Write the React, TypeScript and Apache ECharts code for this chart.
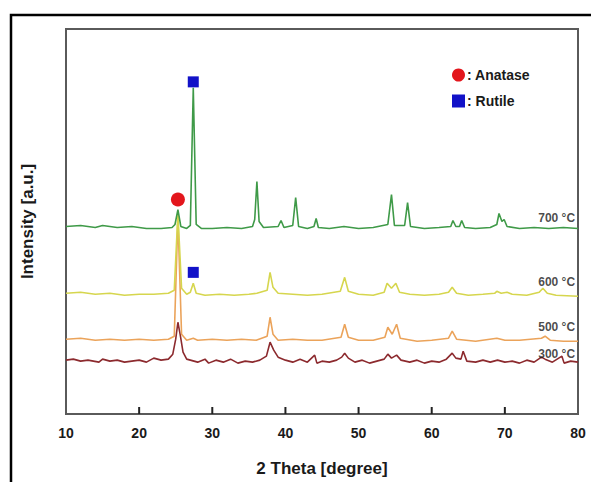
import React, { useEffect, useRef } from "react";
import * as echarts from "echarts";

// 2θ / relative intensity points (intensity in arbitrary units)
const s700: [number, number][] = [
  [10, 188], [12, 189], [14, 187], [15, 189], [17, 187], [19, 188], [21, 186], [23, 186], [24.5, 187],
  [24.9, 190], [25.3, 205], [25.7, 188], [26.5, 186], [27.0, 189], [27.4, 327], [27.8, 190], [28.5, 186],
  [30, 186], [32, 187], [34, 186], [35.5, 188], [35.8, 195], [36.1, 233], [36.4, 193], [37, 187],
  [39.0, 188], [39.4, 194], [39.8, 187], [41.0, 189], [41.4, 217], [41.8, 188], [43, 186], [43.9, 188],
  [44.2, 196], [44.5, 187], [46, 186], [48, 188], [50, 186], [52, 187], [54.0, 190], [54.5, 220],
  [54.9, 189], [56.3, 189], [56.7, 212], [57.1, 188], [59, 186], [61, 187], [62.6, 188], [62.9, 194],
  [63.3, 188], [63.8, 188], [64.1, 194], [64.5, 187], [66, 186], [68, 187], [68.9, 190], [69.2, 201],
  [69.6, 193], [69.9, 195], [70.3, 188], [72, 186], [74, 187], [76, 186], [78, 187], [80, 186],
];
const s600: [number, number][] = [
  [10, 121], [12, 122], [14, 120], [16, 121], [18, 119], [20, 120], [22, 120], [24, 121], [24.8, 124],
  [25.3, 201], [25.8, 126], [26.5, 120], [27.0, 122], [27.4, 131], [27.8, 121], [29, 119], [31, 120],
  [33, 119], [35, 120], [36.1, 121], [37.5, 124], [37.9, 142], [38.3, 127], [39, 121], [41, 120],
  [43, 119], [45, 120], [47.5, 123], [48.1, 137], [48.6, 123], [50, 120], [52, 119], [53.5, 122],
  [53.9, 131], [54.5, 126], [55.1, 131], [55.6, 122], [57, 120], [59, 119], [61, 120], [62.3, 122],
  [62.8, 127], [63.4, 121], [65, 119], [67, 120], [68.6, 121], [68.9, 123], [69.5, 121], [70.3, 122],
  [71, 120], [73, 119], [74.7, 122], [75.2, 126], [75.8, 121], [77, 119], [80, 118],
];
const s500: [number, number][] = [
  [10, 75], [12, 76], [14, 74], [16, 75], [18, 74], [20, 75], [22, 74], [24, 75], [24.8, 78],
  [25.3, 197], [25.8, 80], [26.5, 74], [27.4, 76], [28, 74], [30, 75], [32, 74], [34, 75], [36, 74],
  [37.5, 78], [37.9, 97], [38.3, 80], [39, 74], [41, 75], [43, 74], [45, 74], [47.6, 77], [48.1, 90],
  [48.6, 77], [50, 74], [52, 74], [53.6, 77], [54.0, 87], [54.6, 80], [55.2, 90], [55.7, 76], [58, 73],
  [60, 74], [62.3, 76], [62.8, 83], [63.4, 75], [66, 73], [68.9, 76], [70, 74], [72, 74], [75, 76],
  [75.5, 78], [76.2, 74], [78, 73], [80, 73],
];
const s300: [number, number][] = [
  [10, 54], [11, 55], [12, 53], [13, 54], [14.5, 52], [15, 55], [16, 53], [17, 54], [18, 52], [19, 53],
  [20, 54], [21, 52], [22, 56], [23, 54], [24, 55], [24.6, 60], [25.0, 75], [25.3, 92], [25.6, 80],
  [26.0, 62], [26.5, 55], [27.5, 53], [28, 52], [29, 55], [29.5, 51], [30.5, 54], [31.5, 52],
  [32.5, 55], [33.5, 51], [34.5, 53], [35.5, 52], [36.5, 54], [37.4, 58], [37.9, 72], [38.4, 64],
  [39, 57], [40, 54], [41, 52], [42, 55], [43, 52], [44.0, 59], [44.3, 51], [45, 53], [46, 52],
  [47, 54], [47.7, 57], [48.1, 61], [48.6, 56], [49.5, 52], [50.5, 54], [51.5, 51], [52.5, 53],
  [53.5, 55], [54.0, 60], [54.5, 56], [55.2, 59], [55.8, 54], [57, 52], [58, 54], [59, 51], [60, 53],
  [61, 52], [62.0, 55], [62.8, 61], [63.3, 56], [64.0, 55], [64.3, 63], [64.8, 53], [66, 52], [67, 54],
  [68, 52], [69, 54], [70, 52], [71, 53], [72, 51], [73, 54], [74, 52], [75.0, 57], [75.5, 55],
  [76.5, 52], [77.8, 58], [78.1, 51], [79, 53], [80, 52],
];

// phase markers
const anatasePts: [number, number][] = [[25.3, 215]];
const rutilePts: [number, number][] = [[27.4, 333], [27.4, 142]];

// temperature labels: [2θ, intensity, text]
const tempLabels: [number, number, string][] = [
  [79.6, 197, "700 °C"],
  [79.6, 132, "600 °C"],
  [79.6, 87, "500 °C"],
  [79.6, 60, "300 °C"],
];

const xTicks = [10, 20, 30, 40, 50, 60, 70, 80];

const FONT = "Liberation Sans, Arial, sans-serif";

export default function App() {
  const ref = useRef<HTMLDivElement>(null);
  useEffect(() => {
    if (!ref.current) return;
    const chart = echarts.init(ref.current, undefined, { renderer: "svg" });
    const line = (name: string, data: [number, number][], color: string) => ({
      name,
      type: "line",
      data,
      symbol: "none",
      smooth: false,
      lineStyle: { color, width: 1.6 },
      z: 2,
    });
    const tickMarks = xTicks.slice(1, -1).map((t) => [t, 0]);
    chart.setOption({
      animation: false,
      backgroundColor: "#fff",
      textStyle: { fontFamily: FONT },
      grid: {
        left: 66,
        right: 13,
        top: 29,
        bottom: 67,
        show: true,
        borderColor: "#5a5a5a",
        borderWidth: 2,
      },
      legend: {
        orient: "vertical",
        left: 447,
        top: 63,
        itemGap: 12,
        itemWidth: 13,
        itemHeight: 13,
        formatter: ": {name}",
        textStyle: { fontFamily: FONT, fontWeight: "bold", fontSize: 14, color: "#1a1a1a", padding: [0, 0, 0, -3] },
        data: [
          { name: "Anatase", icon: "circle" },
          { name: "Rutile", icon: "rect" },
        ],
      },
      xAxis: {
        type: "value",
        min: xTicks[0],
        max: xTicks[xTicks.length - 1],
        interval: 10,
        name: "2 Theta [degree]",
        nameLocation: "middle",
        nameGap: 46,
        nameTextStyle: { fontFamily: FONT, fontWeight: "bold", fontSize: 17, color: "#1a1a1a" },
        axisLine: { show: true, lineStyle: { color: "#5a5a5a", width: 2 } },
        axisTick: { show: false },
        axisLabel: { fontFamily: FONT, fontWeight: "bold", fontSize: 14, color: "#1a1a1a", margin: 12 },
        splitLine: { show: false },
      },
      yAxis: {
        type: "value",
        min: 0,
        max: 386,
        name: "Intensity [a.u.]",
        nameLocation: "middle",
        nameGap: 30,
        nameRotate: 90,
        nameTextStyle: { fontFamily: FONT, fontWeight: "bold", fontSize: 17, color: "#1a1a1a" },
        axisLine: { show: true, lineStyle: { color: "#5a5a5a", width: 2 } },
        axisTick: { show: false },
        axisLabel: { show: false },
        splitLine: { show: false },
      },
      graphic: [
        {
          type: "polyline",
          shape: { points: [[11, 482], [11, 15], [591, 15]] },
          style: { stroke: "#000", lineWidth: 2.5, fill: "none" },
          silent: true,
        },
      ],
      series: [
        {
          name: "ticks",
          type: "scatter",
          data: tickMarks,
          symbol: "rect",
          symbolSize: [2, 7],
          symbolOffset: [0, -3.5],
          silent: true,
          clip: false,
          itemStyle: { color: "#222", opacity: 1 },
          z: 8,
        },
        line("300 °C", s300, "#8c2a2e"),
        line("500 °C", s500, "#eba35a"),
        line("600 °C", s600, "#d6d64e"),
        line("700 °C", s700, "#3f9a48"),
        {
          name: "Anatase",
          type: "scatter",
          data: anatasePts,
          symbol: "circle",
          symbolSize: 14,
          itemStyle: { color: "#e3161c", opacity: 1 },
          z: 5,
        },
        {
          name: "Rutile",
          type: "scatter",
          data: rutilePts,
          symbol: "rect",
          symbolSize: 11,
          itemStyle: { color: "#1212c8", opacity: 1 },
          z: 5,
        },
        {
          name: "labels",
          type: "scatter",
          data: tempLabels,
          symbolSize: 0,
          silent: true,
          label: {
            show: true,
            position: "left",
            distance: 0,
            formatter: (p: any) => p.value[2],
            fontFamily: FONT,
            fontWeight: "bold",
            fontSize: 12,
            color: "#1a1a1a",
          },
          z: 6,
        },
      ],
    });
    return () => chart.dispose();
  }, []);
  return (
    <div
      ref={ref}
      style={{ position: "fixed", left: 0, top: 0, width: 591, height: 482, background: "#fff" }}
    />
  );
}
